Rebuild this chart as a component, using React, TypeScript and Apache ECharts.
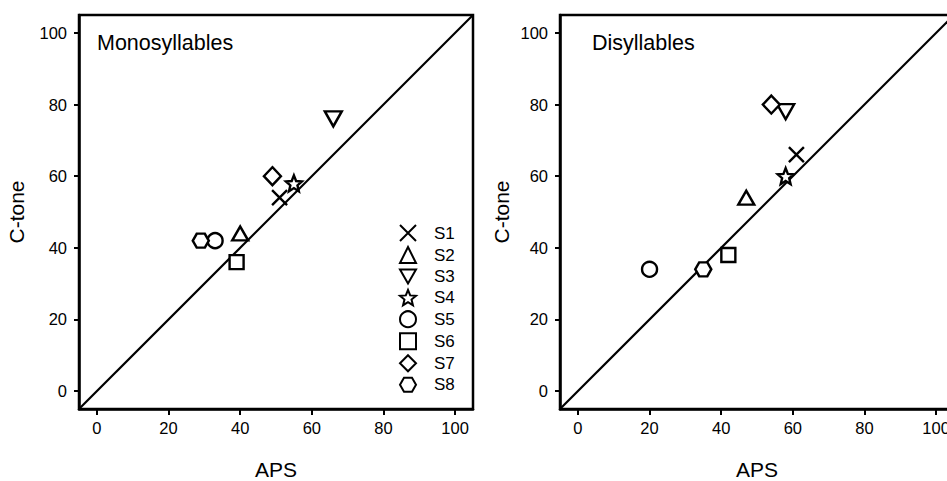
import React, { useEffect, useRef } from 'react';
import * as echarts from 'echarts';

// ---- data ----
const subjects = ['S1', 'S2', 'S3', 'S4', 'S5', 'S6', 'S7', 'S8'];
const monoAPS = [51, 40, 66, 55, 33, 39, 49, 29];
const monoCtone = [54, 44, 76, 58, 42, 36, 60, 42];
const diAPS = [61, 47, 58, 58, 20, 42, 54, 35];
const diCtone = [66, 54, 78, 60, 34, 38, 80, 34];
const tickValues = [0, 20, 40, 60, 80, 100];
const axisMin = -5;
const axisMax = 105;
const panelTitles = ['Monosyllables', 'Disyllables'];

// ---- styles ----
const FONT = '"Liberation Sans", Arial, Helvetica, sans-serif';
const STAR =
  'path://M10,0L12.6,6.4L19.51,6.91L14.2,11.3L15.88,18.09L10,14.4L4.12,18.09L5.8,11.3L0.49,6.91L7.4,6.4Z';
const HEX = 'path://M0,8.66L5,0L15,0L20,8.66L15,17.32L5,17.32Z';
const symbolDefs: { symbol: string; size: number | number[] }[] = [
  { symbol: 'path://M0,0L10,10M10,0L0,10', size: 15 },
  { symbol: 'triangle', size: [16, 14] },
  { symbol: 'path://M0,0L10,0L5,8.66Z', size: [17, 15] },
  { symbol: STAR, size: 16 },
  { symbol: 'circle', size: 15 },
  { symbol: 'rect', size: 14 },
  { symbol: 'diamond', size: [17, 18] },
  { symbol: HEX, size: [16, 14] },
];

const grids = [
  { left: 79, top: 15, width: 394, height: 394 },
  { left: 560, top: 15, width: 394, height: 394 },
];

function makeX(gridIndex: number) {
  return {
    type: 'value',
    gridIndex,
    min: axisMin,
    max: axisMax,
    name: 'APS',
    nameLocation: 'middle',
    nameGap: 50,
    nameTextStyle: { fontSize: 21, color: '#000', fontFamily: FONT },
    axisLine: { show: true, onZero: false, lineStyle: { color: '#000', width: 2.5 } },
    axisTick: { show: true, customValues: tickValues, length: 6, lineStyle: { color: '#000', width: 2 } },
    axisLabel: { customValues: tickValues, margin: 10, fontSize: 16.5, color: '#000', fontFamily: FONT },
    splitLine: { show: false },
  };
}

function makeY(gridIndex: number, gap: number) {
  return {
    type: 'value',
    gridIndex,
    min: axisMin,
    max: axisMax,
    name: 'C-tone',
    nameLocation: 'middle',
    nameRotate: 90,
    nameGap: gap,
    nameTextStyle: { fontSize: 21, color: '#000', fontFamily: FONT },
    axisLine: { show: true, onZero: false, lineStyle: { color: '#000', width: 2.5 } },
    axisTick: { show: true, customValues: tickValues, length: 5, lineStyle: { color: '#000', width: 2 } },
    axisLabel: { customValues: tickValues, margin: 12, fontSize: 16.5, color: '#000', fontFamily: FONT },
    splitLine: { show: false },
  };
}

export default function App() {
  const ref = useRef<HTMLDivElement>(null);

  useEffect(() => {
    const chart = echarts.init(ref.current!, null, { renderer: 'svg' });
    const panels = [
      { x: monoAPS, y: monoCtone },
      { x: diAPS, y: diCtone },
    ];
    const series: any[] = [];
    panels.forEach((p, gi) => {
      series.push({
        type: 'line',
        xAxisIndex: gi,
        yAxisIndex: gi,
        data: [
          [axisMin, axisMin],
          [axisMax, axisMax],
        ],
        showSymbol: false,
        symbol: 'none',
        silent: true,
        z: 1,
        lineStyle: { color: '#000', width: 2.2 },
        legendHoverLink: false,
      });
      subjects.forEach((s, i) => {
        series.push({
          type: 'scatter',
          name: s,
          xAxisIndex: gi,
          yAxisIndex: gi,
          data: [[p.x[i], p.y[i]]],
          symbol: symbolDefs[i].symbol,
          symbolSize: symbolDefs[i].size,
          z: 3,
          itemStyle: { color: '#fff', borderColor: '#000', borderWidth: 2.4, opacity: 1 },
          emphasis: { disabled: true },
        });
      });
    });

    const option: any = {
      animation: false,
      backgroundColor: '#fff',
      title: panelTitles.map((t, i) => ({
        text: t,
        left: i === 0 ? 97 : 592,
        top: 32,
        padding: 0,
        textStyle: { fontSize: 21.5, fontWeight: 'normal', color: '#000', fontFamily: FONT },
      })),
      grid: grids.map((g) => ({
        ...g,
        show: true,
        borderColor: '#000',
        borderWidth: 2.5,
        backgroundColor: 'transparent',
        containLabel: false,
        outerBoundsMode: 'none',
      })),
      xAxis: [makeX(0), makeX(1)],
      yAxis: [makeY(0, 52), makeY(1, 48)],
      legend: {
        orient: 'vertical',
        left: 399,
        top: 224,
        padding: 0,
        itemWidth: 16,
        itemHeight: 16,
        itemGap: 4,
        selectedMode: false,
        data: subjects,
        textStyle: { fontSize: 17, color: '#000', fontFamily: FONT, padding: [0, 0, 0, 13] },
      },
      series,
    };
    chart.setOption(option);
    return () => chart.dispose();
  }, []);

  return (
    <div
      ref={ref}
      style={{ position: 'fixed', left: 0, top: 0, width: 947, height: 481, background: '#fff' }}
    />
  );
}
